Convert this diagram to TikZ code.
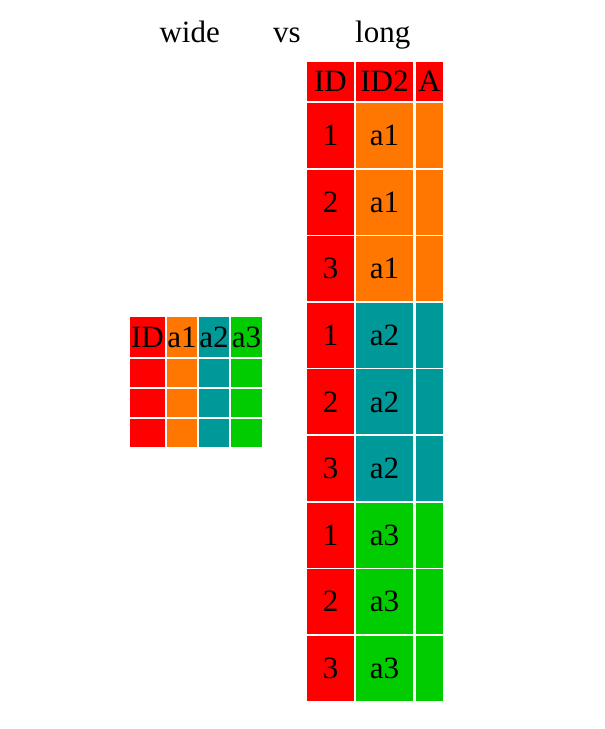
\documentclass[tikz,border=0pt]{standalone}
\usepackage{fontspec}
\setmainfont{Liberation Serif}
\usetikzlibrary{positioning}
\definecolor{idred}{RGB}{255,0,0}
\definecolor{aone}{RGB}{255,119,0}
\definecolor{atwo}{RGB}{0,153,153}
\definecolor{athree}{RGB}{0,204,0}

\begin{document}
\begin{tikzpicture}[
  x=1pt,y=-1pt,
  bigtext/.style={font=\fontsize{31}{36}\selectfont,inner sep=0pt},
  cell/.style={bigtext,anchor=north west,outer sep=0pt}
]
  \useasboundingbox (0,0) rectangle (605,729);

  % title
  \node[bigtext,anchor=base] (vs) at (287,42) {vs};
  \node[bigtext,base left=53pt of vs] (wide) {wide};
  \node[bigtext,base right=54pt of vs] (long) {long};

  % wide table
  \foreach \x/\w/\head/\col in {130/35/ID/idred,167/30/a1/aone,199/30/a2/atwo,231/31/a3/athree} {
    \node[cell,fill=\col,minimum width=\w pt,minimum height=40pt] (W-\head) at (\x,317) {\head};
    \foreach \y [count=\r] in {359,389,419}
      \node[cell,fill=\col,minimum width=\w pt,minimum height=28pt] (W-\head-\r) at (\x,\y) {};
  }

  % long table
  \node[cell,fill=idred,minimum width=47pt,minimum height=39pt] (L-ID) at (307,62) {ID};
  \node[cell,fill=idred,minimum width=57pt,minimum height=39pt] (L-ID2) at (356,62) {ID2};
  \node[cell,fill=idred,minimum width=27pt,minimum height=39pt] (L-A) at (416,62) {A};
  \foreach \g/\col [count=\gi from 0] in {a1/aone,a2/atwo,a3/athree}
    \foreach \k in {1,2,3} {
      \pgfmathsetmacro\ytop{103+(3*\gi+\k-1)*66.6}
      \node[cell,fill=idred,minimum width=47pt,minimum height=65pt] (L-\g-\k-id) at (307,\ytop) {\k};
      \node[cell,fill=\col,minimum width=57pt,minimum height=65pt] (L-\g-\k-grp) at (356,\ytop) {\g};
      \node[cell,fill=\col,minimum width=27pt,minimum height=65pt] (L-\g-\k-val) at (416,\ytop) {};
    }
\end{tikzpicture}
\end{document}
